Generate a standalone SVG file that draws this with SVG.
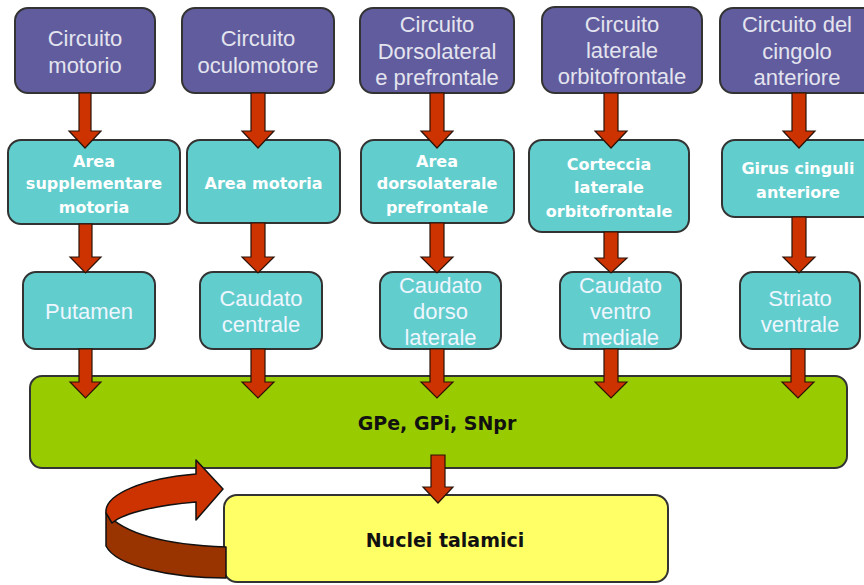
<svg xmlns="http://www.w3.org/2000/svg" width="864" height="585" viewBox="0 0 864 585">
<style>
.box{stroke:#333;stroke-width:2}
.pur{fill:#605C9E}
.cya{fill:#62CDCD}
.grn{fill:#99CC00}
.yel{fill:#FFFF66}
.t1{font-family:"Liberation Sans",Arial,sans-serif;font-size:22px;fill:#E4E4EE;text-anchor:middle}
.t2{font-family:"DejaVu Sans",Verdana,sans-serif;font-weight:bold;font-size:16px;fill:#FFFFFF;text-anchor:middle}
.t3{font-family:"Liberation Sans",Arial,sans-serif;font-size:22px;fill:#EEF6FF;text-anchor:middle}
.tb{font-family:"DejaVu Sans",Verdana,sans-serif;font-weight:bold;font-size:19px;fill:#111;text-anchor:middle}
.arr{fill:#CC3300;stroke:#2a1208;stroke-width:1.2;stroke-linejoin:miter}
.loopTop{fill:#CC3300;stroke:#111;stroke-width:1.5;stroke-linejoin:round}
.loopSide{fill:#993300;stroke:#111;stroke-width:1.5;stroke-linejoin:round}
</style>

<g id="n-circuito-motorio">
<rect class="box pur" x="15" y="8" width="140" height="85" rx="13"/>
<text class="t1" x="85" y="46">Circuito</text>
<text class="t1" x="85" y="72.5">motorio</text>
</g>
<g id="n-circuito-oculomotore">
<rect class="box pur" x="182" y="8" width="152" height="85" rx="13"/>
<text class="t1" x="258" y="46">Circuito</text>
<text class="t1" x="258" y="72.5">oculomotore</text>
</g>
<g id="n-circuito-dorsolaterale">
<rect class="box pur" x="360" y="8" width="154" height="85" rx="13"/>
<text class="t1" x="437" y="32">Circuito</text>
<text class="t1" x="437" y="58.5">Dorsolateral</text>
<text class="t1" x="437" y="85">e prefrontale</text>
</g>
<g id="n-circuito-orbitofrontale">
<rect class="box pur" x="542" y="7" width="160" height="86" rx="13"/>
<text class="t1" x="622" y="32">Circuito</text>
<text class="t1" x="622" y="58">laterale</text>
<text class="t1" x="622" y="84">orbitofrontale</text>
</g>
<g id="n-circuito-cingolo">
<rect class="box pur" x="720" y="8" width="156" height="85" rx="13"/>
<text class="t1" x="797" y="32">Circuito del</text>
<text class="t1" x="797" y="58.5">cingolo</text>
<text class="t1" x="797" y="85">anteriore</text>
</g>

<g id="n-area-supplementare">
<rect class="box cya" x="8" y="140" width="172" height="84" rx="13"/>
<text class="t2" x="94" y="167">Area</text>
<text class="t2" x="94" y="189">supplementare</text>
<text class="t2" x="94" y="213">motoria</text>
</g>
<g id="n-area-motoria">
<rect class="box cya" x="187" y="140" width="153" height="83" rx="13"/>
<text class="t2" x="263.5" y="189">Area motoria</text>
</g>
<g id="n-area-dorsolaterale">
<rect class="box cya" x="361" y="140" width="153" height="83" rx="13"/>
<text class="t2" x="437" y="167">Area</text>
<text class="t2" x="437" y="189">dorsolaterale</text>
<text class="t2" x="437" y="213">prefrontale</text>
</g>
<g id="n-corteccia-orbitofrontale">
<rect class="box cya" x="529" y="140" width="160" height="92" rx="13"/>
<text class="t2" x="609" y="170">Corteccia</text>
<text class="t2" x="609" y="193">laterale</text>
<text class="t2" x="609" y="217">orbitofrontale</text>
</g>
<g id="n-girus-cinguli">
<rect class="box cya" x="722" y="140" width="154" height="77" rx="13"/>
<text class="t2" x="798" y="174">Girus cinguli</text>
<text class="t2" x="798" y="198">anteriore</text>
</g>

<g id="n-putamen">
<rect class="box cya" x="23" y="272" width="132" height="77" rx="13"/>
<text class="t3" x="89" y="319">Putamen</text>
</g>
<g id="n-caudato-centrale">
<rect class="box cya" x="200" y="272" width="122" height="77" rx="13"/>
<text class="t3" x="261" y="306">Caudato</text>
<text class="t3" x="261" y="332">centrale</text>
</g>
<g id="n-caudato-dorsolaterale">
<rect class="box cya" x="380" y="272" width="121" height="77" rx="13"/>
<text class="t3" x="440.5" y="293">Caudato</text>
<text class="t3" x="440.5" y="319">dorso</text>
<text class="t3" x="440.5" y="345">laterale</text>
</g>
<g id="n-caudato-ventromediale">
<rect class="box cya" x="560" y="272" width="121" height="77" rx="13"/>
<text class="t3" x="620.5" y="293">Caudato</text>
<text class="t3" x="620.5" y="319">ventro</text>
<text class="t3" x="620.5" y="345">mediale</text>
</g>
<g id="n-striato-ventrale">
<rect class="box cya" x="740" y="272" width="120" height="77" rx="13"/>
<text class="t3" x="800" y="306">Striato</text>
<text class="t3" x="800" y="332">ventrale</text>
</g>

<g id="n-gpe-gpi-snpr">
<rect class="box grn" x="30" y="376" width="817" height="92" rx="12"/>
<text class="tb" x="437" y="430">GPe, GPi, SNpr</text>
</g>

<g id="n-nuclei-talamici">
<rect class="box yel" x="224" y="495" width="444" height="87" rx="13"/>
<text class="tb" x="445" y="547">Nuclei talamici</text>
</g>

<g id="connectors">
<!-- row1 to row2 -->
<path class="arr" d="M79,93 H91 V131 H101 L85,148 L69,131 H79 Z"/>
<path class="arr" d="M251,93 H265 V131 H274 L258,148 L242,131 H251 Z"/>
<path class="arr" d="M430,93 H444 V131 H453 L437,148 L421,131 H430 Z"/>
<path class="arr" d="M604,93 H618 V131 H627 L611,148 L595,131 H604 Z"/>
<path class="arr" d="M792,93 H806 V131 H815 L799,148 L783,131 H792 Z"/>
<!-- row2 to row3 -->
<path class="arr" d="M79,224 H92 V257 H101 L85.5,273 L70,257 H79 Z"/>
<path class="arr" d="M251,223 H265 V257 H274 L258,273 L242,257 H251 Z"/>
<path class="arr" d="M430,223 H444 V257 H453 L437,273 L421,257 H430 Z"/>
<path class="arr" d="M604,232 H618 V258 H627 L611,273 L595,258 H604 Z"/>
<path class="arr" d="M792,217 H806 V257 H815 L799,273 L783,257 H792 Z"/>
<!-- row3 to green -->
<path class="arr" d="M79,349 H92 V382 H101 L85.5,398 L70,382 H79 Z"/>
<path class="arr" d="M251,349 H265 V382 H274 L258,398 L242,382 H251 Z"/>
<path class="arr" d="M430,349 H444 V382 H453 L437,398 L421,382 H430 Z"/>
<path class="arr" d="M604,349 H618 V382 H627 L611,398 L595,382 H604 Z"/>
<path class="arr" d="M791,349 H805 V382 H814 L798,398 L782,382 H791 Z"/>
<!-- green to yellow -->
<path class="arr" d="M431,455 H445 V487 H453 L438,503 L423,487 H431 Z"/>
<!-- loop arrow -->
<path class="loopSide" d="M226,547 C170,545 125,535 106,513 L106,546 C116,566 170,578 226,578 Z"/>
<path class="loopTop" d="M106,513 C104,494 145,478 196,474 L196,460 L223,489 L196,520 L196,502 C160,505 125,512 112,523 Z"/>
</g>
</svg>
